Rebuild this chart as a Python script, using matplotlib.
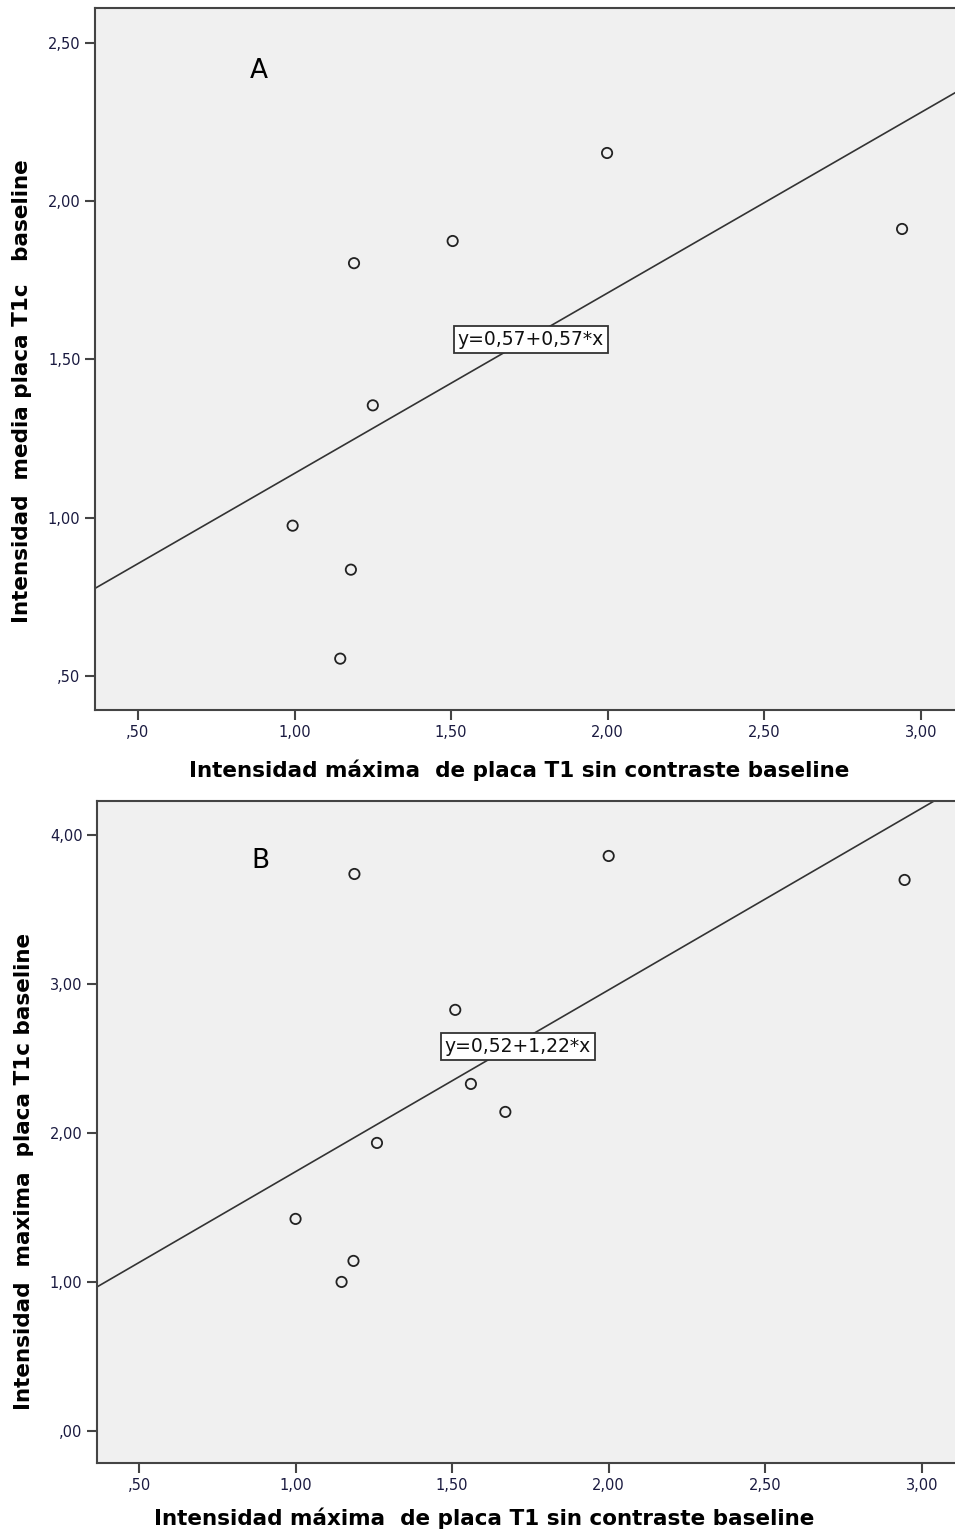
import matplotlib.pyplot as plt
import numpy as np

# Panel A: intensidad media T1c vs intensidad maxima T1
xa = [0.994, 1.19, 1.18, 1.146, 1.25, 1.505, 1.998, 2.94]
ya = [0.975, 1.804, 0.836, 0.555, 1.355, 1.874, 2.152, 1.912]
coef_a = (0.57, 0.57)

# Panel B: intensidad maxima T1c vs intensidad maxima T1
xb = [1.0, 1.185, 1.147, 1.26, 1.51, 1.56, 1.67, 2.0, 1.188, 2.945]
yb = [1.423, 1.141, 1.0, 1.933, 2.826, 2.329, 2.141, 3.859, 3.738, 3.698]
coef_b = (0.52, 1.22)

xticks = [0.5, 1.0, 1.5, 2.0, 2.5, 3.0]
xticklabels = [',50', '1,00', '1,50', '2,00', '2,50', '3,00']
yticks_a = [0.5, 1.0, 1.5, 2.0, 2.5]
yticklabels_a = [',50', '1,00', '1,50', '2,00', '2,50']
yticks_b = [0.0, 1.0, 2.0, 3.0, 4.0]
yticklabels_b = [',00', '1,00', '2,00', '3,00', '4,00']

xlabel = 'Intensidad máxima  de placa T1 sin contraste baseline'
ylabel_a = 'Intensidad  media placa T1c   baseline'
ylabel_b = 'Intensidad  maxima  placa T1c baseline'

fig = plt.figure(figsize=(9.55, 15.33), dpi=100)
ax1 = fig.add_axes([0.0995, 0.5369, 0.9005, 0.4579])
ax2 = fig.add_axes([0.1016, 0.0457, 0.8984, 0.4318])

tick_col = '#1a1a40'


def panel(ax, x, y, coef, xlim, ylim, yticks, yticklabels, ylabel, ylab_pos,
          xlab_x, xlab_pad, letra, eq, eqpos):
    ax.set_facecolor('#f0f0f0')
    ax.scatter(x, y, s=55, facecolors='none', edgecolors='#222222', linewidths=1.3, zorder=3)
    lx = np.array(xlim)
    ax.plot(lx, coef[0] + coef[1] * lx, color='#333333', lw=1.2, zorder=2)
    ax.set_xlim(xlim)
    ax.set_ylim(ylim)
    ax.set_xticks(xticks)
    ax.set_xticklabels(xticklabels)
    ax.set_yticks(yticks)
    ax.set_yticklabels(yticklabels)
    ax.tick_params(direction='out', length=7, width=1.5, colors='#444444',
                   labelcolor=tick_col, labelsize=10.5)
    for s in ['left', 'bottom', 'top']:
        ax.spines[s].set_color('#444444')
        ax.spines[s].set_linewidth(1.5)
    ax.spines['right'].set_visible(False)
    ax.set_xlabel(xlabel, fontsize=15.5, fontweight='bold', labelpad=xlab_pad)
    ax.xaxis.label.set_x(xlab_x)
    ax.set_ylabel(ylabel, fontsize=15.5, fontweight='bold')
    ax.yaxis.set_label_coords(ylab_pos[0], ylab_pos[1])
    ax.text(0.19, 0.91, letra, transform=ax.transAxes, fontsize=19, ha='center', va='center')
    ax.text(eqpos[0], eqpos[1], eq, fontsize=13.5, ha='center', va='center', color='#111111',
            bbox=dict(boxstyle='square,pad=0.2', fc='white', ec='#333333', lw=1.3), zorder=4)


panel(ax1, xa, ya, coef_a, (0.363, 3.109), (0.393, 2.61), yticks_a, yticklabels_a,
      ylabel_a, (-0.073, 0.454), 0.493, 14.5, 'A', 'y=0,57+0,57*x', (1.755, 1.563))
panel(ax2, xb, yb, coef_b, (0.366, 3.106), (-0.215, 4.228), yticks_b, yticklabels_b,
      ylabel_b, (-0.074, 0.44), 0.451, 11, 'B', 'y=0,52+1,22*x', (1.71, 2.58))

fig.savefig('out.png', dpi=100)
